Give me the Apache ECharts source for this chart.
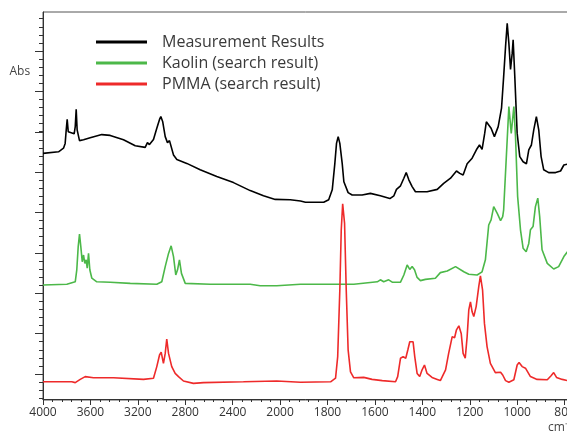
<!DOCTYPE html>
<html>
<head>
<meta charset="utf-8">
<script src="https://cdn.jsdelivr.net/npm/echarts@6/dist/echarts.min.js"></script>
<style>
html,body{margin:0;padding:0;background:#fff;}
#chart{width:567px;height:433px;}
</style>
</head>
<body>
<div id="chart"></div>
<script>
var seriesNames = ['Measurement Results', 'Kaolin (search result)', 'PMMA (search result)'];
var seriesColors = ['#000000', '#4cb849', '#ee2a2a'];

var blackWn = [4000,3869,3827,3813,3804,3796,3787,3771,3737,3728,3720,3712,3692,3658,3602,3504,3433,3321,3222,3138,3119,3102,3068,3040,3017,3006,2990,2969,2950,2933,2922,2899,2871,2787,2674,2534,2393,2252,2140,2041,1957,1914,1893,1816,1795,1780,1769,1762,1755,1748,1738,1731,1724,1713,1696,1654,1619,1577,1537,1520,1509,1492,1478,1468,1457,1443,1429,1380,1337,1310,1281,1256,1242,1228,1211,1190,1172,1159,1148,1137,1130,1122,1110,1096,1080,1066,1057,1049,1042,1035,1028,1021,1017,1010,1000,989,975,961,951,940,930,919,909,899,888,867,838,817,803,788];
var blackAbs = [0.614,0.618,0.627,0.639,0.673,0.699,0.668,0.664,0.663,0.681,0.724,0.673,0.646,0.648,0.653,0.661,0.659,0.648,0.633,0.629,0.641,0.636,0.649,0.677,0.699,0.706,0.693,0.656,0.641,0.646,0.641,0.610,0.599,0.589,0.573,0.556,0.541,0.521,0.508,0.499,0.498,0.495,0.492,0.492,0.498,0.523,0.589,0.639,0.656,0.639,0.589,0.543,0.538,0.516,0.510,0.510,0.514,0.508,0.501,0.508,0.524,0.533,0.552,0.566,0.548,0.531,0.518,0.518,0.524,0.539,0.552,0.570,0.564,0.560,0.588,0.602,0.623,0.635,0.624,0.664,0.693,0.698,0.677,0.656,0.681,0.727,0.806,0.881,0.939,0.889,0.824,0.864,0.898,0.806,0.664,0.606,0.593,0.588,0.623,0.635,0.673,0.706,0.673,0.606,0.573,0.566,0.566,0.570,0.585,0.587];

var greenWn = [4000,3799,3728,3715,3703,3692,3681,3669,3658,3647,3636,3627,3616,3605,3588,3546,3433,3264,3251,3040,2998,2969,2941,2919,2899,2880,2865,2849,2832,2800,2590,2252,2168,2028,1914,1689,1682,1590,1577,1563,1542,1527,1492,1478,1464,1453,1443,1433,1422,1408,1387,1345,1324,1295,1260,1225,1204,1169,1148,1134,1120,1110,1099,1084,1070,1061,1057,1035,1025,1014,1007,998,986,975,962,951,944,933,923,913,905,895,873,846,825,803,788];
var greenAbs = [0.285,0.287,0.293,0.323,0.381,0.412,0.381,0.343,0.360,0.339,0.348,0.327,0.364,0.323,0.302,0.293,0.292,0.289,0.287,0.287,0.293,0.331,0.364,0.383,0.356,0.310,0.323,0.348,0.314,0.289,0.287,0.287,0.283,0.283,0.287,0.287,0.291,0.293,0.298,0.293,0.298,0.292,0.292,0.310,0.335,0.324,0.331,0.323,0.304,0.296,0.299,0.302,0.316,0.320,0.331,0.318,0.312,0.310,0.318,0.348,0.435,0.448,0.481,0.464,0.446,0.456,0.473,0.731,0.664,0.731,0.656,0.506,0.423,0.377,0.368,0.389,0.423,0.431,0.481,0.502,0.456,0.373,0.339,0.325,0.331,0.356,0.368];

var redWn = [4000,3757,3728,3686,3644,3574,3405,3391,3152,3068,3040,3017,3003,2984,2969,2956,2941,2914,2885,2857,2843,2815,2731,2646,2309,2028,1914,1787,1766,1757,1748,1742,1736,1728,1721,1713,1703,1689,1647,1612,1569,1513,1504,1492,1481,1470,1461,1453,1439,1432,1422,1411,1401,1391,1380,1359,1337,1324,1302,1289,1274,1264,1256,1246,1236,1228,1219,1211,1204,1197,1190,1183,1173,1162,1155,1146,1138,1127,1113,1092,1070,1061,1049,1035,1014,1000,992,979,965,944,916,873,857,846,834,810,788];
var redAbs = [0.043,0.043,0.041,0.049,0.056,0.053,0.053,0.048,0.049,0.052,0.081,0.110,0.117,0.089,0.114,0.150,0.114,0.081,0.064,0.056,0.058,0.045,0.039,0.041,0.043,0.045,0.042,0.043,0.052,0.106,0.273,0.423,0.488,0.439,0.273,0.123,0.068,0.053,0.054,0.049,0.046,0.043,0.056,0.102,0.106,0.102,0.123,0.143,0.143,0.106,0.064,0.056,0.073,0.085,0.064,0.054,0.049,0.046,0.073,0.114,0.156,0.153,0.173,0.183,0.164,0.114,0.102,0.156,0.223,0.243,0.218,0.206,0.231,0.281,0.308,0.273,0.189,0.131,0.089,0.066,0.067,0.060,0.046,0.042,0.048,0.085,0.091,0.081,0.077,0.056,0.049,0.048,0.058,0.066,0.054,0.049,0.046];

// Wavenumber axis: 4000-2000 cm-1 at one scale, below 2000 cm-1 expanded x2 (common IR display)
var BREAK = 2000;
function wnToPos(wn) { return wn >= BREAK ? (4000 - wn) : (4000 - BREAK) + 2 * (BREAK - wn); }
function posToWn(p) { return p <= (4000 - BREAK) ? (4000 - p) : BREAK - (p - (4000 - BREAK)) / 2; }

function pairs(wn, ab) {
  var out = [];
  var n = Math.min(wn.length, ab.length);
  for (var i = 0; i < n; i++) out.push([wnToPos(wn[i]), ab[i]]);
  return out;
}

var FONT = 'Open Sans';
var AX = '#333333';

var chart = echarts.init(document.getElementById('chart'), null, {renderer: 'canvas'});
var option = {
  animation: false,
  backgroundColor: '#ffffff',
  textStyle: {fontFamily: FONT},
  grid: [
    {left: 43, top: 12, width: 569, height: 388, show: true, borderColor: '#555555', borderWidth: 1, backgroundColor: 'transparent', outerBoundsMode: 'none', containLabel: false},
    {left: 43, top: 51, width: 1, height: 323, outerBoundsMode: 'none', containLabel: false},
    {left: 43, top: 18.7, width: 1, height: 379.5, outerBoundsMode: 'none', containLabel: false}
  ],
  legend: {
    orient: 'vertical',
    left: 96,
    top: 34,
    padding: 0,
    itemWidth: 51,
    itemHeight: 3,
    itemGap: 5,
    icon: 'rect',
    data: seriesNames,
    textStyle: {fontFamily: FONT, fontSize: 16, lineHeight: 16, color: '#3a3a3a', padding: [0, 0, 0, 10]}
  },
  xAxis: [
    {
      gridIndex: 0, type: 'value', min: 0, max: 4800, interval: 400,
      axisLine: {show: true, lineStyle: {color: AX, width: 1}},
      axisTick: {show: true, inside: false, length: 6, lineStyle: {color: AX}},
      minorTick: {show: true, splitNumber: 5, length: 3, lineStyle: {color: AX}},
      axisLabel: {show: true, margin: 7, fontSize: 12, fontFamily: FONT, color: '#333333',
        formatter: function (v) { return String(Math.round(posToWn(v))); }},
      splitLine: {show: false}, minorSplitLine: {show: false}
    },
    {gridIndex: 1, type: 'value', show: false},
    {gridIndex: 2, type: 'value', show: false}
  ],
  yAxis: [
    {
      gridIndex: 0, type: 'value', min: -0.0025, max: 0.9675,
      axisLine: {show: true, lineStyle: {color: AX, width: 1}},
      axisTick: {show: false}, axisLabel: {show: false}, splitLine: {show: false}
    },
    {
      gridIndex: 1, type: 'value', min: 0, max: 8, interval: 1,
      axisLine: {show: false},
      axisTick: {show: true, inside: false, length: 8, lineStyle: {color: AX}},
      axisLabel: {show: false}, splitLine: {show: false}
    },
    {
      gridIndex: 2, type: 'value', min: 0, max: 47, interval: 1,
      axisLine: {show: false},
      axisTick: {show: true, inside: false, length: 4, lineStyle: {color: AX}},
      axisLabel: {show: false}, splitLine: {show: false}
    }
  ],
  graphic: [
    {type: 'text', left: 9.5, top: 66, style: {text: 'Abs', fontFamily: FONT, fontSize: 12, fill: '#444444'}},
    {type: 'text', x: 548, y: 428, style: {text: 'cm\u207B\u00B9', fontFamily: FONT, fontSize: 12, fill: '#444444', verticalAlign: 'middle'}}
  ],
  series: [
    {name: seriesNames[0], type: 'line', xAxisIndex: 0, yAxisIndex: 0, showSymbol: false, symbol: 'none',
      color: seriesColors[0], lineStyle: {width: 1.6, color: seriesColors[0]}, data: pairs(blackWn, blackAbs)},
    {name: seriesNames[1], type: 'line', xAxisIndex: 0, yAxisIndex: 0, showSymbol: false, symbol: 'none',
      color: seriesColors[1], lineStyle: {width: 1.6, color: seriesColors[1]}, data: pairs(greenWn, greenAbs)},
    {name: seriesNames[2], type: 'line', xAxisIndex: 0, yAxisIndex: 0, showSymbol: false, symbol: 'none',
      color: seriesColors[2], lineStyle: {width: 1.6, color: seriesColors[2]}, data: pairs(redWn, redAbs)}
  ]
};
chart.setOption(option);
</script>
</body>
</html>
